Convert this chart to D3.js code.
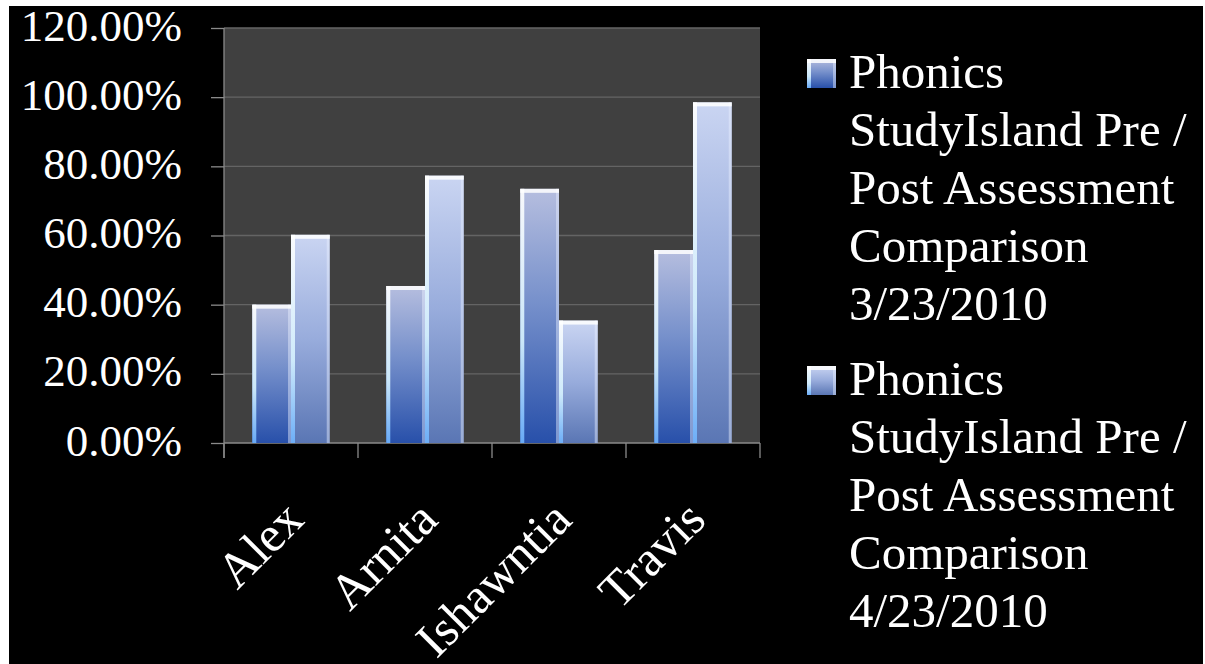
<!DOCTYPE html>
<meta charset="UTF-8">
<style>
  body { margin: 0; background: #fff; }
  svg { display: block; }
  .lbl { font-family: "Liberation Serif", serif; fill: #fff; }
</style>
<body>
<script src="https://cdnjs.cloudflare.com/ajax/libs/d3/7.8.5/d3.min.js"></script>
<script>
// data
const categories = ["Alex", "Arnita", "Ishawntia", "Travis"];
const seriesKeys = ["pre", "post"];
const preScores = [0.400, 0.454, 0.735, 0.558];
const postScores = [0.602, 0.773, 0.354, 0.985];
const yTicks = [0, 0.2, 0.4, 0.6, 0.8, 1.0, 1.2];
const legendPre = ["Phonics", "StudyIsland Pre /", "Post Assessment", "Comparison", "3/23/2010"];
const legendPost = ["Phonics", "StudyIsland Pre /", "Post Assessment", "Comparison", "4/23/2010"];

const W = 1205, H = 664;
const plot = {left: 224, right: 760, top: 28, bottom: 443};

const svg = d3.select("body").append("svg")
    .attr("width", W)
    .attr("height", H);

// black slide area with thin white edge like the screenshot
svg.append("rect").attr("x", 9).attr("y", 6).attr("width", 1194).attr("height", H - 6).attr("fill", "#000");

const defs = svg.append("defs");
function vGrad(id, stops) {
  const g = defs.append("linearGradient").attr("id", id)
      .attr("x1", 0).attr("y1", 0).attr("x2", 0).attr("y2", 1);
  stops.forEach(s => g.append("stop").attr("offset", s[0]).attr("stop-color", s[1]));
}
vGrad("gPre", [[0, "#b6bedf"], [0.45, "#7690cb"], [1, "#2850aa"]]);
vGrad("gPost", [[0, "#cad5f2"], [0.5, "#98acdc"], [1, "#5a76b4"]]);
vGrad("gEdge", [[0, "#ffffff"], [0.6, "#d6f2ff"], [1, "#6fb4ff"]]);

const x = d3.scaleBand().domain(categories).range([plot.left, plot.right]);
const x1 = d3.scaleBand().domain(seriesKeys).range([0, x.bandwidth()]).paddingOuter(0.73);
const y = d3.scaleLinear().domain([0, 1.2]).range([plot.bottom, plot.top]);

// plot area
svg.append("rect")
    .attr("x", plot.left).attr("y", plot.top)
    .attr("width", plot.right - plot.left).attr("height", plot.bottom - plot.top)
    .attr("fill", "#404040");

svg.append("g").selectAll("line").data(yTicks.slice(1)).join("line")
    .attr("x1", plot.left).attr("x2", plot.right)
    .attr("y1", d => y(d)).attr("y2", d => y(d))
    .attr("stroke", "#646464").attr("stroke-width", 1.3);

// y axis
const yAxis = svg.append("g")
    .attr("transform", `translate(${plot.left},0)`)
    .call(d3.axisLeft(y).tickValues(yTicks).tickFormat(d3.format(".2%")).tickSize(13).tickPadding(29));
yAxis.select(".domain").remove();
yAxis.selectAll(".tick line").attr("stroke", "#8a8a8a").attr("stroke-width", 1.3);
yAxis.selectAll(".tick text")
    .attr("class", "lbl")
    .attr("dy", 12)
    .style("font-size", "45px");
svg.append("line")
    .attr("x1", plot.left).attr("x2", plot.left)
    .attr("y1", plot.top).attr("y2", plot.bottom + 15)
    .attr("stroke", "#8a8a8a").attr("stroke-width", 1.3);

// x axis line and boundary ticks
svg.append("line")
    .attr("x1", plot.left).attr("x2", plot.right)
    .attr("y1", plot.bottom).attr("y2", plot.bottom)
    .attr("stroke", "#8a8a8a").attr("stroke-width", 1.3);
const bounds = categories.map(c => x(c)).concat([plot.right]);
svg.append("g").selectAll("line").data(bounds).join("line")
    .attr("x1", d => d).attr("x2", d => d)
    .attr("y1", plot.bottom).attr("y2", plot.bottom + 15)
    .attr("stroke", "#8a8a8a").attr("stroke-width", 1.3);

svg.append("g").selectAll("text").data(categories).join("text")
    .attr("class", "lbl")
    .attr("text-anchor", "end")
    .style("font-size", "50px")
    .attr("transform", d => `translate(${x(d) + x.bandwidth() / 2 + 15},522) rotate(-45)`)
    .text(d => d);

// bars
const rows = categories.map((c, i) => ({cat: c, pre: preScores[i], post: postScores[i]}));
const flat = [];
rows.forEach(r => seriesKeys.forEach(k => flat.push({cat: r.cat, key: k, value: r[k]})));

function bevelBar(g, bx, by, bw, bh, fillId) {
  g.append("rect").attr("x", bx).attr("y", by).attr("width", bw).attr("height", bh)
      .attr("fill", `url(#${fillId})`);
  g.append("rect").attr("x", bx).attr("y", by).attr("width", 4).attr("height", bh)
      .attr("fill", "url(#gEdge)").attr("opacity", 0.9);
  g.append("rect").attr("x", bx + bw - 3).attr("y", by).attr("width", 3).attr("height", bh)
      .attr("fill", "#e8f0ff").attr("opacity", 0.45);
  g.append("rect").attr("x", bx).attr("y", by).attr("width", bw).attr("height", 4)
      .attr("fill", "#ffffff").attr("opacity", 0.85);
}

const barG = svg.append("g");
flat.forEach(d => {
  const bx = x(d.cat) + x1(d.key);
  const by = y(d.value);
  bevelBar(barG, bx, by, x1.bandwidth(), y(0) - by, d.key === "pre" ? "gPre" : "gPost");
});

// legend
const legend = [
  {lines: legendPre, fill: "gPre", top: 59},
  {lines: legendPost, fill: "gPost", top: 366}
];
legend.forEach(item => {
  const g = svg.append("g");
  bevelBar(g, 807, item.top, 29, 29, item.fill);
  g.selectAll("text").data(item.lines).join("text")
      .attr("class", "lbl")
      .style("font-size", "49px")
      .attr("x", 849)
      .attr("y", (d, i) => item.top + 29 + i * 58)
      .text(d => d);
});
</script>
</body>
